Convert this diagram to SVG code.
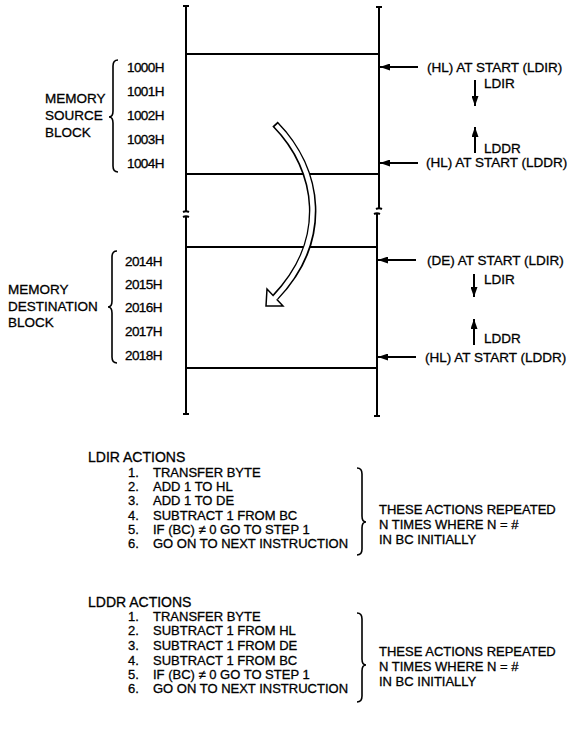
<svg xmlns="http://www.w3.org/2000/svg" width="572" height="729" viewBox="0 0 572 729">
<defs>
<marker id="ah" viewBox="0 0 10 7" refX="10" refY="3.5" markerWidth="10" markerHeight="7" markerUnits="userSpaceOnUse" orient="auto"><path d="M0,0 L10,3.5 L0,7 z" fill="#000"/></marker>
</defs>
<style>
text{font-family:"Liberation Sans",Arial,sans-serif;fill:#000;stroke:#000;stroke-width:0.3}
.lbl{font-size:13.5px}
.addr{font-size:13.5px;letter-spacing:-0.6px}
.list{font-size:13px}
.hd{font-size:14px}
.ln{stroke:#000;stroke-width:2;fill:none}
.br{stroke:#000;stroke-width:1.6;fill:none}
.arr{stroke:#000;stroke-width:2;fill:none;marker-end:url(#ah)}
</style>
<rect width="572" height="729" fill="#fff"/>

<g id="memory-column">
<path class="ln" d="M186,6 V212 M186,217 V414 M183,6 H189 M183,414 H189 M183,212 q3,-1.5 6,0 M183,217 q3,-1.5 6,0"/>
<path class="ln" d="M379,7 V209 M377,214 V416 M376,7 H382 M374,416 H380 M376,209 q3,-1.5 6,0 M374,214 q3,-1.5 6,0"/>
</g>

<g id="source-block">
<path class="ln" d="M186,54 H379 M186,174 H379"/>
<text class="addr" x="127" y="72">1000H</text>
<text class="addr" x="127" y="96">1001H</text>
<text class="addr" x="127" y="120">1002H</text>
<text class="addr" x="127" y="144">1003H</text>
<text class="addr" x="127" y="168">1004H</text>
<path class="br" d="M118,60 Q113,60 113,66 L113,111 Q113,117 109,117 Q113,117 113,123 L113,166 Q113,172 118,172"/>
<text class="lbl" x="45" y="103">MEMORY</text>
<text class="lbl" x="45" y="120">SOURCE</text>
<text class="lbl" x="45" y="137">BLOCK</text>
</g>

<g id="destination-block">
<path class="ln" d="M186,247 H377 M186,368 H377"/>
<text class="addr" x="125" y="266">2014H</text>
<text class="addr" x="125" y="289">2015H</text>
<text class="addr" x="125" y="312">2016H</text>
<text class="addr" x="125" y="336">2017H</text>
<text class="addr" x="125" y="360">2018H</text>
<path class="br" d="M117,251 Q112,251 112,257 L112,301 Q112,307 108,307 Q112,307 112,313 L112,357 Q112,363 117,363"/>
<text class="lbl" x="8" y="294">MEMORY</text>
<text class="lbl" x="8" y="311">DESTINATION</text>
<text class="lbl" x="8" y="327">BLOCK</text>
</g>

<g id="pointer-labels">
<text class="lbl" x="427" y="72">(HL) AT START (LDIR)</text>
<text class="lbl" x="484" y="88">LDIR</text>
<text class="lbl" x="484" y="153">LDDR</text>
<text class="lbl" x="426" y="167">(HL) AT START (LDDR)</text>
<text class="lbl" x="427" y="265">(DE) AT START (LDIR)</text>
<text class="lbl" x="484" y="284">LDIR</text>
<text class="lbl" x="484" y="343">LDDR</text>
<text class="lbl" x="425" y="362">(HL) AT START (LDDR)</text>
</g>

<g id="connectors">
<path class="arr" d="M418,67 H380"/>
<path class="arr" d="M418,163 H380"/>
<path class="arr" d="M416,260 H378"/>
<path class="arr" d="M416,357 H378"/>
<path class="arr" d="M475,80 V106"/>
<path class="arr" d="M475,153 V127"/>
<path class="arr" d="M474,274 V297"/>
<path class="arr" d="M474,345 V319"/>
<g id="transfer-arrow">
<polygon points="266,306 267,289 283,306" fill="#fff" stroke="#000" stroke-width="1.5" stroke-linejoin="miter"/>
<path d="M275,124 C320,170 330,240 275.5,297" fill="none" stroke="#000" stroke-width="7.5"/>
<path d="M276.2,125.3 C320,170 330,240 274,299" fill="none" stroke="#fff" stroke-width="4.5"/>
</g>
</g>

<g id="ldir-actions">
<text class="hd" x="88" y="462">LDIR ACTIONS</text>
<text class="list" x="128" y="477">1.</text><text class="list" x="153" y="477">TRANSFER BYTE</text>
<text class="list" x="128" y="491">2.</text><text class="list" x="153" y="491">ADD 1 TO HL</text>
<text class="list" x="128" y="505">3.</text><text class="list" x="153" y="505">ADD 1 TO DE</text>
<text class="list" x="128" y="520">4.</text><text class="list" x="153" y="520">SUBTRACT 1 FROM BC</text>
<text class="list" x="128" y="534">5.</text><text class="list" x="153" y="534">IF (BC) ≠ 0 GO TO STEP 1</text>
<text class="list" x="128" y="548">6.</text><text class="list" x="153" y="548">GO ON TO NEXT INSTRUCTION</text>
<path class="br" d="M357,468 Q362,468 362,474 L362,516 Q362,522 366,522 Q362,522 362,528 L362,549 Q362,555 357,555"/>
<text class="list" x="379" y="514">THESE ACTIONS REPEATED</text>
<text class="list" x="379" y="529">N TIMES WHERE N = #</text>
<text class="list" x="379" y="544">IN BC INITIALLY</text>
</g>

<g id="lddr-actions">
<text class="hd" x="88" y="607">LDDR ACTIONS</text>
<text class="list" x="128" y="621">1.</text><text class="list" x="153" y="621">TRANSFER BYTE</text>
<text class="list" x="128" y="635">2.</text><text class="list" x="153" y="635">SUBTRACT 1 FROM HL</text>
<text class="list" x="128" y="650">3.</text><text class="list" x="153" y="650">SUBTRACT 1 FROM DE</text>
<text class="list" x="128" y="665">4.</text><text class="list" x="153" y="665">SUBTRACT 1 FROM BC</text>
<text class="list" x="128" y="679">5.</text><text class="list" x="153" y="679">IF (BC) ≠ 0 GO TO STEP 1</text>
<text class="list" x="128" y="693">6.</text><text class="list" x="153" y="693">GO ON TO NEXT INSTRUCTION</text>
<path class="br" d="M357,613 Q362,613 362,619 L362,659 Q362,665 366,665 Q362,665 362,671 L362,696 Q362,702 357,702"/>
<text class="list" x="379" y="656">THESE ACTIONS REPEATED</text>
<text class="list" x="379" y="671">N TIMES WHERE N = #</text>
<text class="list" x="379" y="686">IN BC INITIALLY</text>
</g>
</svg>
